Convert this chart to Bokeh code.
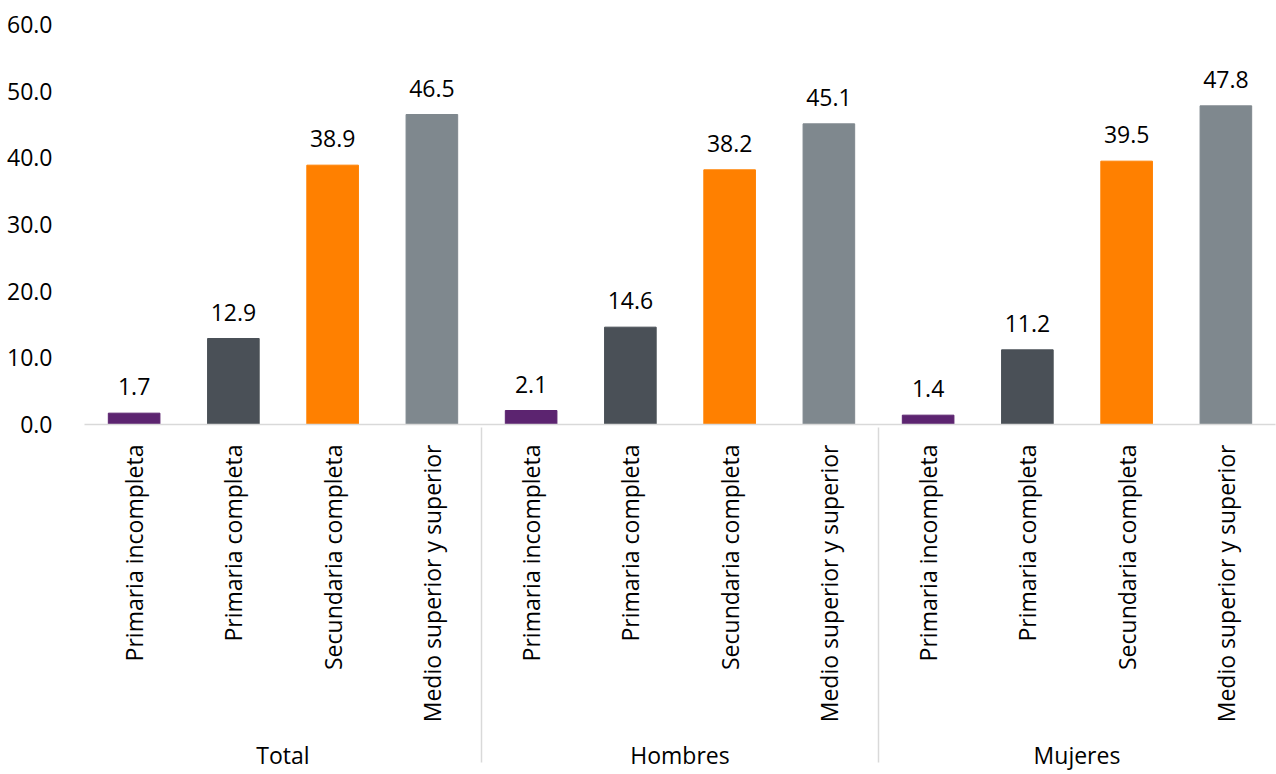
import math
from bokeh.plotting import figure
from bokeh.models import (ColumnDataSource, FactorRange, Range1d, LabelSet, FixedTicker,
                          NumeralTickFormatter)
from bokeh.core.properties import value
from bokeh.embed import file_html
from bokeh.resources import INLINE

groups = ["Total", "Hombres", "Mujeres"]
levels = ["Primaria incompleta", "Primaria completa", "Secundaria completa", "Medio superior y superior"]
total_vals = [1.7, 12.9, 38.9, 46.5]
hombres_vals = [2.1, 14.6, 38.2, 45.1]
mujeres_vals = [1.4, 11.2, 39.5, 47.8]
level_colors = ["#5C2470", "#4A5057", "#FF8000", "#7F888E"]
y_ticks = [0, 10, 20, 30, 40, 50, 60]

FONT = "Open Sans"
FS = "23px"
LINE = "#D9D9D9"

xs, ys, cols, labels = [], [], [], []
for g, vals in zip(groups, [total_vals, hombres_vals, mujeres_vals]):
    for lv, v, c in zip(levels, vals, level_colors):
        xs.append((g, lv))
        ys.append(v)
        cols.append(c)
        labels.append(f"{v:.1f}")

src = ColumnDataSource(dict(x=xs, y=ys, color=cols, label=labels))

p = figure(
    x_range=FactorRange(*xs, factor_padding=0, group_padding=0, range_padding=0),
    y_range=Range1d(0, 60),
    width=1276, height=774,
    output_backend="svg", toolbar_location=None,
    min_border_left=84, min_border_right=1, min_border_top=24, min_border_bottom=348,
)
p.outline_line_color = None
p.xgrid.grid_line_color = None
p.ygrid.grid_line_color = None

p.vbar(x="x", top="y", width=0.52, color="color", source=src)

p.add_layout(LabelSet(x="x", y="y", text="label", source=src, y_offset=18,
                      text_align="center", text_baseline="alphabetic",
                      text_font=value(FONT), text_font_size=FS, text_color="#000000"))

yax = p.yaxis[0]
yax.ticker = FixedTicker(ticks=y_ticks)
yax.formatter = NumeralTickFormatter(format="0.0")
yax.axis_line_color = None
yax.major_tick_line_color = None
yax.minor_tick_line_color = None
yax.major_label_standoff = 26
yax.major_label_text_font = FONT
yax.major_label_text_font_size = FS
yax.major_label_text_color = "#000000"

xax = p.xaxis[0]
xax.axis_line_color = LINE
xax.axis_line_width = 1.5
xax.major_tick_line_color = None
xax.minor_tick_line_color = None
xax.major_label_orientation = math.pi / 2
xax.major_label_standoff = 14
xax.major_label_text_font = FONT
xax.major_label_text_font_size = FS
xax.major_label_text_color = "#000000"
xax.group_text_font = FONT
xax.group_text_font_size = FS
xax.group_text_color = "#000000"
xax.group_text_font_style = "normal"
xax.separator_line_color = LINE
xax.separator_line_width = 1.5

open("out.html", "w").write(file_html(p, INLINE))
